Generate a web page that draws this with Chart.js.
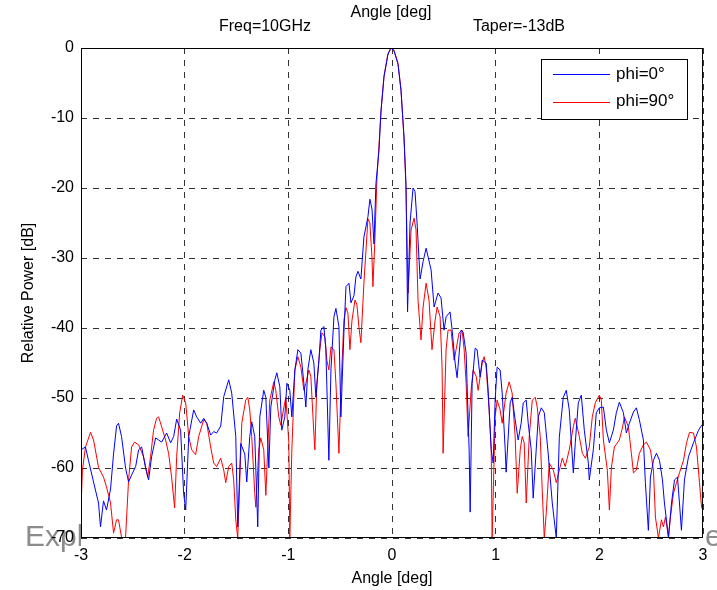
<!DOCTYPE html>
<html>
<head>
<meta charset="utf-8">
<script src="https://cdn.jsdelivr.net/npm/chart.js@4.4.1/dist/chart.umd.min.js"></script>
<style>
html, body { margin: 0; padding: 0; background: #fff; }
#wrap { width: 717px; height: 590px; }
</style>
</head>
<body>
<div id="wrap"><canvas id="chart" width="717" height="590"></canvas></div>
<script>
// phi = 0° cut (blue)
const angle0 = [-3.0, -2.957, -2.928, -2.879, -2.831, -2.812, -2.783, -2.754, -2.715, -2.686,
    -2.657, -2.638, -2.609, -2.570, -2.541, -2.512, -2.473, -2.444, -2.415, -2.377,
    -2.348, -2.319, -2.280, -2.251, -2.222, -2.174, -2.135, -2.106, -2.077, -2.039,
    -2.010, -1.990, -1.961, -1.913, -1.884, -1.845, -1.816, -1.787, -1.749, -1.720,
    -1.691, -1.652, -1.623, -1.575, -1.546, -1.507, -1.488, -1.459, -1.420, -1.401,
    -1.372, -1.353, -1.324, -1.295, -1.275, -1.237, -1.217, -1.188, -1.169, -1.130,
    -1.111, -1.082, -1.063, -1.034, -1.014, -0.986, -0.966, -0.937, -0.908, -0.879,
    -0.850, -0.831, -0.812, -0.783, -0.754, -0.734, -0.705, -0.686, -0.657, -0.638,
    -0.609, -0.589, -0.560, -0.541, -0.512, -0.493, -0.464, -0.444, -0.415, -0.396,
    -0.367, -0.348, -0.329, -0.300, -0.271, -0.232, -0.213, -0.193, -0.174, -0.155,
    -0.126, -0.106, -0.077, -0.039, -0.010, 0.019, 0.058, 0.087, 0.116, 0.135,
    0.150, 0.174, 0.203, 0.222, 0.242, 0.271, 0.300, 0.329, 0.377, 0.406,
    0.444, 0.473, 0.502, 0.522, 0.560, 0.580, 0.609, 0.628, 0.667, 0.686,
    0.715, 0.744, 0.754, 0.773, 0.802, 0.821, 0.850, 0.870, 0.908, 0.928,
    0.957, 0.976, 0.995, 1.014, 1.043, 1.063, 1.092, 1.101, 1.140, 1.159,
    1.188, 1.217, 1.246, 1.266, 1.295, 1.314, 1.343, 1.362, 1.391, 1.411,
    1.440, 1.469, 1.507, 1.546, 1.585, 1.614, 1.652, 1.681, 1.710, 1.749,
    1.768, 1.797, 1.826, 1.855, 1.894, 1.903, 1.942, 1.971, 2.000, 2.039,
    2.068, 2.097, 2.135, 2.164, 2.193, 2.232, 2.261, 2.290, 2.329, 2.357,
    2.386, 2.425, 2.444, 2.473, 2.493, 2.522, 2.551, 2.580, 2.609, 2.628,
    2.667, 2.696, 2.725, 2.754, 2.773, 2.792, 2.821, 2.860, 2.908, 2.957,
    2.986, 3.0];
const power0 = [-57.4, -57, -58.9, -62, -65, -68.4, -64.7, -66, -63, -58,
    -54, -53.6, -55.5, -60, -62, -61, -59.8, -57.4, -57, -60,
    -61.7, -58.4, -55.7, -56, -56.3, -55, -56.4, -55.5, -53, -54.6,
    -63.6, -66, -55.5, -51.7, -52.7, -53.6, -52.9, -53.6, -55.3, -54.8,
    -55, -54, -49.8, -47.4, -49.3, -55.5, -68.4, -56.5, -58, -62,
    -55.5, -53.4, -55.5, -68.4, -52.7, -48.9, -49.9, -60, -51.3, -47.4,
    -46.4, -48.4, -54.6, -52.7, -47.9, -48.9, -52.7, -46, -43.1, -43.6,
    -47.9, -51.3, -46, -43.1, -45, -49.9, -44.6, -40.3, -39.8, -43.1,
    -58.9, -46, -38.4, -37.2, -39.8, -52.7, -40.7, -34.1, -33.6, -36.4,
    -35.4, -32.7, -31.9, -33, -27, -24.1, -21.6, -23, -28, -19.4,
    -14.7, -9, -4.1, -0.9, 0, -0.4, -2.3, -6.1, -12.7, -19.5,
    -37.7, -25, -20, -20.5, -25, -33, -30.5, -28.6, -31.7, -37,
    -35, -35.7, -40.3, -38.4, -37.7, -40.3, -45, -47.1, -40.3, -40.6,
    -43.6, -57.4, -66.3, -47.9, -42.9, -43.1, -47, -44.6, -45, -48.9,
    -57.4, -59.3, -50.3, -45.6, -46, -49.3, -57.4, -60.6, -50.7, -49.9,
    -53.1, -56, -53.6, -50.7, -50.3, -53.6, -57.4, -64.3, -57.4, -52.7,
    -51.4, -52.1, -58, -65, -70, -55.6, -49.9, -48.9, -51.7, -60.7,
    -56.4, -50.7, -49.6, -54.6, -59.3, -61.7, -57.4, -52.1, -51.4, -51.3,
    -54.6, -56.4, -54.6, -52.1, -50.6, -52.1, -55, -53.6, -52, -51.4,
    -53.1, -56, -62.1, -68.9, -61.3, -58.9, -57.9, -58.9, -61.7, -65,
    -69.9, -65, -61.7, -61.3, -65, -68.9, -61.7, -58.4, -56.4, -54.6,
    -53.9, -54];

// phi = 90° cut (red)
const angle90 = [-3.0, -2.986, -2.957, -2.908, -2.879, -2.831, -2.783, -2.754, -2.715, -2.686,
    -2.657, -2.638, -2.609, -2.589, -2.570, -2.541, -2.512, -2.483, -2.444, -2.396,
    -2.357, -2.329, -2.300, -2.271, -2.251, -2.222, -2.184, -2.155, -2.126, -2.097,
    -2.077, -2.048, -2.019, -1.990, -1.961, -1.932, -1.894, -1.865, -1.816, -1.787,
    -1.749, -1.720, -1.691, -1.652, -1.623, -1.604, -1.575, -1.546, -1.527, -1.507,
    -1.488, -1.469, -1.449, -1.411, -1.391, -1.372, -1.353, -1.324, -1.314, -1.285,
    -1.266, -1.237, -1.217, -1.198, -1.179, -1.140, -1.121, -1.092, -1.072, -1.043,
    -1.024, -0.995, -0.986, -0.966, -0.937, -0.908, -0.879, -0.850, -0.831, -0.802,
    -0.783, -0.754, -0.744, -0.725, -0.696, -0.676, -0.647, -0.628, -0.609, -0.589,
    -0.560, -0.541, -0.512, -0.493, -0.464, -0.444, -0.425, -0.406, -0.386, -0.357,
    -0.338, -0.319, -0.300, -0.271, -0.251, -0.232, -0.213, -0.193, -0.184, -0.164,
    -0.145, -0.126, -0.106, -0.077, -0.039, -0.010, 0.019, 0.058, 0.087, 0.116,
    0.135, 0.155, 0.184, 0.213, 0.232, 0.251, 0.280, 0.300, 0.329, 0.357,
    0.386, 0.415, 0.435, 0.464, 0.483, 0.493, 0.522, 0.541, 0.570, 0.599,
    0.618, 0.647, 0.676, 0.696, 0.715, 0.734, 0.763, 0.783, 0.812, 0.831,
    0.870, 0.889, 0.908, 0.937, 0.957, 0.966, 0.995, 1.014, 1.043, 1.063,
    1.101, 1.130, 1.159, 1.188, 1.208, 1.237, 1.256, 1.275, 1.295, 1.324,
    1.353, 1.382, 1.401, 1.430, 1.449, 1.469, 1.488, 1.517, 1.556, 1.585,
    1.614, 1.643, 1.671, 1.710, 1.749, 1.768, 1.807, 1.836, 1.865, 1.903,
    1.932, 1.961, 2.000, 2.019, 2.039, 2.077, 2.097, 2.116, 2.145, 2.193,
    2.222, 2.242, 2.280, 2.309, 2.329, 2.357, 2.386, 2.425, 2.454, 2.493,
    2.522, 2.541, 2.570, 2.599, 2.618, 2.638, 2.667, 2.686, 2.715, 2.744,
    2.773, 2.812, 2.841, 2.870, 2.908, 2.937, 2.966, 2.986, 3.0];
const power90 = [-65.6, -60.3, -57, -54.9, -56, -59.9, -61.3, -62.7, -65, -69.3,
    -67.4, -67.4, -69.9, -70, -69.9, -61.7, -57, -56.3, -56.7, -58.4,
    -61.3, -58.4, -54.6, -52.9, -52.7, -54.1, -56, -57.9, -61.3, -65.7,
    -58.4, -52.1, -49.6, -50.7, -55.5, -57.4, -58.1, -55.5, -53.1, -53.6,
    -57, -59.3, -59.8, -58.6, -60.3, -62.1, -59.8, -59.3, -61.7, -67.4,
    -70, -62.1, -53.6, -50.3, -49.9, -51.7, -55.5, -63.6, -65.6, -57.4,
    -55.7, -57.4, -63.9, -57, -50.3, -47.7, -48.9, -52.7, -53.9, -51.3,
    -49.9, -56.4, -70, -57.4, -46, -44.1, -45.6, -48.9, -47.9, -46,
    -46.9, -55, -57.4, -47.9, -43.1, -40.7, -41.3, -44.6, -46, -42.7,
    -43.1, -47.9, -57.9, -48.9, -38.9, -37.1, -37.9, -43.1, -38.9, -36,
    -36.7, -39.9, -42.1, -33.6, -28.9, -24.4, -25, -30, -34.1, -27,
    -18.5, -14, -9, -4, -0.8, 0, -0.3, -2.2, -6, -13,
    -20, -35, -26, -24.3, -26, -36, -41.7, -37, -33.6, -36,
    -43.1, -39, -37, -38.4, -45.6, -57.9, -43, -40.3, -40.3, -44.6,
    -43.1, -40.7, -40.3, -43.1, -47.9, -55.5, -48.9, -46, -46.9, -48.9,
    -45, -44.1, -45.6, -51.7, -57.4, -70, -52.7, -50.3, -51.7, -53.6,
    -49.3, -47.7, -49.3, -55.5, -63.6, -57.4, -55.5, -56.4, -65, -55.5,
    -50.3, -49.9, -51.3, -55.5, -63.1, -70, -66.4, -59.3, -60.3, -62.1,
    -60.3, -58.6, -59.8, -57.4, -54.1, -52.9, -55.5, -57.9, -58.6, -57,
    -52.7, -50.7, -49.6, -50.3, -56, -60.3, -66, -60, -57, -56,
    -54.3, -52.7, -54.1, -57.9, -60.7, -60.3, -57.9, -56.7, -56.3, -57.4,
    -60.3, -67, -70, -67.4, -68.4, -67, -69.9, -67, -63.6, -62.1,
    -60.7, -58.9, -56.4, -54.9, -55, -57, -62.1, -65.6, -66];

const xTicks = [-3, -2, -1, 0, 1, 2, 3];
const yTicks = [-70, -60, -50, -40, -30, -20, -10, 0];
const seriesNames = ['phi=0°', 'phi=90°'];
const seriesColors = ['#0000ff', '#ff0000'];

const FONT = '"Liberation Sans", Arial, Helvetica, sans-serif';

function toPoints(xs, ys) {
    return xs.map((x, i) => ({ x, y: ys[i] }));
}

// white page + faded watermark, only showing left and right of the axes box
const backdrop = {
    id: 'backdrop',
    beforeDraw(chart) {
        const { ctx, chartArea: a, width, height } = chart;
        ctx.save();
        ctx.fillStyle = '#fff';
        ctx.fillRect(0, 0, width, height);
        ctx.beginPath();
        ctx.rect(0, 0, a.left, height);
        ctx.rect(a.right, 0, width - a.right, height);
        ctx.clip();
        ctx.fillStyle = 'rgba(120,120,120,0.85)';
        ctx.font = '30px ' + FONT;
        ctx.textBaseline = 'alphabetic';
        ctx.textAlign = 'left';
        ctx.fillText('Exploring', 25, 546);
        ctx.fillText('e', 705, 546);
        ctx.restore();
    }
};

// box, legend and header texts
const overlay = {
    id: 'overlay',
    afterDraw(chart) {
        const { ctx, chartArea: a } = chart;
        ctx.save();
        ctx.strokeStyle = '#000';
        ctx.lineWidth = 1;
        ctx.strokeRect(a.left + 0.5, a.top + 0.5, a.right - a.left - 1, a.bottom - a.top - 1);

        ctx.fillStyle = '#000';
        ctx.font = '16px ' + FONT;
        ctx.textAlign = 'center';
        ctx.textBaseline = 'middle';
        ctx.fillText('Angle [deg]', 391, 13);
        ctx.fillText('Freq=10GHz', 265, 27);
        ctx.fillText('Taper=-13dB', 519, 27);

        // legend box
        const lx = 541, ly = 59, lw = 146, lh = 60;
        ctx.fillStyle = '#fff';
        ctx.fillRect(lx, ly, lw, lh);
        ctx.strokeRect(lx + 0.5, ly + 0.5, lw, lh);
        ctx.textAlign = 'left';
        seriesNames.forEach((name, i) => {
            const y = ly + 15 + i * 27.5;
            ctx.strokeStyle = seriesColors[i];
            ctx.beginPath();
            ctx.moveTo(553, Math.round(y) + 0.5);
            ctx.lineTo(610, Math.round(y) + 0.5);
            ctx.stroke();
            ctx.fillStyle = '#000';
            ctx.font = '17px ' + FONT;
            ctx.fillText(name, 616, y);
        });
        ctx.restore();
    }
};

new Chart(document.getElementById('chart'), {
    type: 'scatter',
    data: {
        datasets: [
            { label: seriesNames[0], data: toPoints(angle0, power0), borderColor: seriesColors[0] },
            { label: seriesNames[1], data: toPoints(angle90, power90), borderColor: seriesColors[1] }
        ].map(d => Object.assign(d, {
            showLine: true, borderWidth: 1, pointRadius: 0, tension: 0, fill: false
        }))
    },
    options: {
        responsive: false,
        animation: false,
        devicePixelRatio: 1,
        layout: { padding: { left: 0, right: 14, top: 48, bottom: 0 } },
        plugins: { legend: { display: false }, tooltip: { enabled: false } },
        scales: {
            x: {
                type: 'linear', min: -3, max: 3,
                afterBuildTicks: s => { s.ticks = xTicks.map(v => ({ value: v })); },
                afterFit: s => { s.height = 52; },
                grid: { color: 'rgba(0,0,0,0.8)', lineWidth: 1, drawTicks: false },
                border: { display: false, dash: [6, 6] },
                ticks: { color: '#000', font: { family: FONT, size: 16 }, padding: 8 },
                title: { display: true, text: 'Angle [deg]', color: '#000', font: { family: FONT, size: 16 }, padding: { top: 0, bottom: 2 } }
            },
            y: {
                type: 'linear', min: -70, max: 0,
                afterBuildTicks: s => { s.ticks = yTicks.map(v => ({ value: v })); },
                afterFit: s => { s.width = 81; },
                grid: { color: 'rgba(0,0,0,0.8)', lineWidth: 1, drawTicks: false },
                border: { display: false, dash: [6, 6] },
                ticks: { color: '#000', font: { family: FONT, size: 16 }, padding: 7 },
                title: { display: true, text: 'Relative Power [dB]', color: '#000', font: { family: FONT, size: 16 }, padding: { top: 19, bottom: 10 } }
            }
        }
    },
    plugins: [backdrop, overlay]
});
</script>
</body>
</html>
